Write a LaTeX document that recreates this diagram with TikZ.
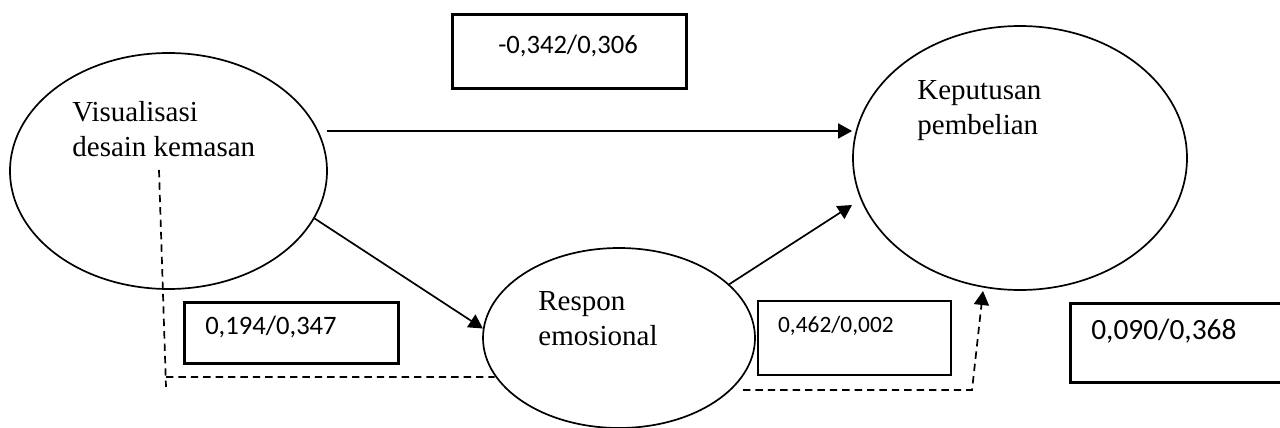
\documentclass[tikz,border=0pt]{standalone}
\usepackage{fontspec}
\setmainfont{Liberation Serif}
\newfontfamily\valfont{Carlito}
\usepackage{tikz}
\usetikzlibrary{positioning,shapes.geometric,arrows.meta}

\begin{document}
\begin{tikzpicture}
                [x=0.5pt,y=-0.5pt,
                var/.style={ellipse,draw,line width=0.85pt,inner sep=0pt},
                lbl/.style={align=left,inner sep=0pt,anchor=north west,font=\fontsize{14.5}{17.5}\selectfont},
                val/.style={rectangle,draw,line width=1.25pt,align=left,inner ysep=0pt,anchor=north west},
                arr/.style={-{Triangle[length=7pt,width=7.5pt]},line width=0.85pt},
                dsh/.style={line width=0.85pt,dash pattern=on 3.7pt off 2.5pt}]
                \useasboundingbox (0,0) rectangle (1280,428);
                % variables
                \node[var,minimum width=158.5pt,minimum height=118pt] (vis) at (168.5,171){};
                \node[lbl] (vistext) at (72,101){Visualisasi\\desain kemasan};
                \node[var,minimum width=167pt,minimum height=132pt] (kep) at (1020,158){};
                \node[lbl] (keptext) at (917,80){Keputusan\\pembelian};
                \node[var,minimum width=136pt,minimum height=90pt] (resp) at (619,338){};
                \node[lbl] (resptext) at (538,291){Respon\\emosional};
                % values
                \node[val,inner xsep=23pt,text width=71pt,text height=19.5pt,text depth=17.5pt,
                      font=\valfont\fontsize{13.3}{16}\selectfont] (val1) at (451,13){-0,342/0,306};
                \node[val,inner xsep=10.5pt,text width=86pt,text height=16pt,text depth=14.5pt,
                      font=\valfont\fontsize{13.3}{16}\selectfont] (val2) at (183,301){0,194/0,347};
                \node[val,inner xsep=10pt,text width=76.5pt,text height=15.5pt,text depth=21.5pt,
                      font=\valfont\fontsize{11.7}{14}\selectfont] (val3)[right=0.5pt of resp]{0,462/0,002};
                \node[val,inner xsep=10.5pt,text width=89.5pt,text height=18pt,text depth=21.5pt,
                      font=\valfont\fontsize{14.7}{17}\selectfont] (val4) at (1069,302){0,090/0,368};
                % connectors
                \coordinate (h1) at (327,131);
                \coordinate (r2) at (852,205);
                \coordinate (dv1) at (159,170);
                \coordinate (dv2) at (166,387);
                \coordinate (dv3) at (166,377);
                \coordinate (dr1) at (743,390);
                \coordinate (dr2) at (972,390);
                \coordinate (dr3) at (983,291);
                \draw[arr] (h1) -- (h1 -| kep.west);
                \draw[arr] (vis.-18) -- (resp.176);
                \draw[arr] (resp.26) -- (r2);
                \draw[dsh] (dv1) -- (dv2) (dv3) -- (dv3 -| resp.197);
                \draw[dsh,arr] (dr1) -- (dr2) -- (dr3);
\end{tikzpicture}
\end{document}
